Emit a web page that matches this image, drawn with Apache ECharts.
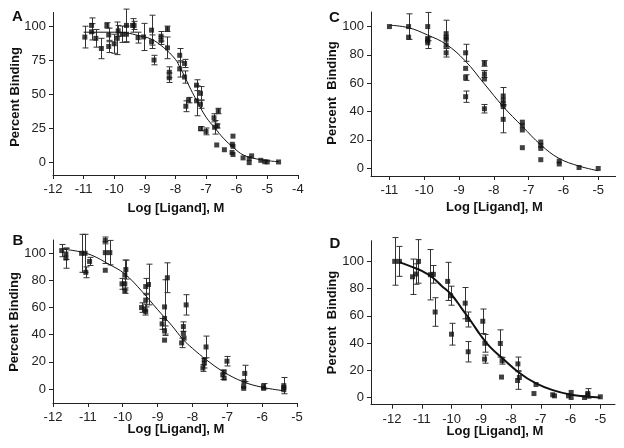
<!DOCTYPE html>
<html><head><meta charset="utf-8">
<script src="https://cdn.jsdelivr.net/npm/echarts@6/dist/echarts.min.js"></script>
<style>html,body{margin:0;padding:0;background:#fff}#c{width:624px;height:448px}</style>
</head><body><div id="c"></div>
<script>
// ---- Panel A ----
const aX = [-10.96,-10.74,-10.74,-10.6,-10.42,-10.24,-10.18,-10.18,-10.0,-9.9,-9.87,-9.74,-9.6,-9.6,-9.4,-9.35,-9.22,-9.04,-8.78,-8.78,-8.7,-8.47,-8.47,-8.26,-8.26,-8.2,-8.2,-7.86,-7.86,-7.7,-7.7,-7.66,-7.57,-7.31,-7.31,-7.18,-7.18,-7.18,-7.0,-6.74,-6.72,-6.6,-6.63,-6.65,-6.4,-6.12,-6.14,-6.12,-6.15,-6.12,-5.79,-5.59,-5.59,-5.51,-5.21,-5.08,-5.0,-4.63];
const aY = [91.9,100.5,95.8,91,83.5,100.5,93.5,85,87,91,96.5,94,100.5,94,100.5,100.5,91.5,92,97,88.5,75,92.5,89.5,98,84,66,62,78.5,68.5,72.5,62.5,41,45.5,56.5,45,50.5,42.5,24.5,22.5,32.5,25.5,37.5,26.5,12.5,9,19,13,11.5,7,5.5,3,2.5,-0.5,4.5,1.2,0.2,0,0];
const aErr = [8,5.5,6,6.5,7.5,2,5,4.5,7,12,4,6,12,6,5,3,4,10,11,5,3.5,3.5,3,2,8,4,3.5,5,6,3,4.5,4,2,4,11,5,3,1.5,2.5,3,5,2,1.5,0,0,0,0,0,0,0,0,0,0,0,0,0,0,0];
const aCurveX = [-11,-10.5,-10,-9.6,-9.2,-8.8,-8.4,-8.0,-7.85,-7.7,-7.5,-7.3,-7.0,-6.7,-6.43,-6.1,-5.78,-5.34,-4.9,-4.62];
const aCurveY = [95.5,95.5,95.5,95,93,90.5,84.5,75.5,69.5,63,53.5,45,33,24.7,17.4,10.5,5.1,2.2,0.7,0.2];
const aTicksX = [-12,-11,-10,-9,-8,-7,-6,-5,-4];
const aTicksY = [0,25,50,75,100];

// ---- Panel B ----
const bX = [-11.75,-11.63,-11.63,-11.18,-11.08,-11.06,-10.95,-10.5,-10.5,-10.5,-10.37,-10.02,-9.94,-9.94,-9.94,-9.91,-9.46,-9.36,-9.34,-9.34,-9.34,-9.26,-8.87,-8.8,-8.8,-8.8,-8.8,-8.72,-8.31,-8.26,-8.26,-8.24,-8.18,-7.7,-7.66,-7.66,-7.61,-7.13,-7.09,-7.09,-7.01,-6.53,-6.53,-6.5,-6.52,-5.96,-5.96,-5.38,-5.38,-5.38];
const bY = [102,99.5,96.5,100,100,86,94,109.5,100.5,87.5,100.5,77.5,84,77.5,72.5,88,60,58.5,75.5,65.5,57,77,48,60.5,52,43,36,82,34,46,41,37.5,62,15.5,19,21.5,31,10.5,8,12.5,20.5,2,0.5,11.5,5.5,2,0.5,2.5,-0.5,1];
const bErr = [4.5,4,7.5,14,14,4,3,2.5,8,0,9,4,11,0,2,7,3.5,4,6,5,0,15,4,20,0,3.5,0,11,3.5,3.5,0,0,7.5,2.5,3.5,0,8,3.5,0,0,3.5,0,0,6,0,2,0,6,0,0];
const bCurveX = [-11.7,-11.3,-10.9,-10.4,-9.95,-9.45,-9.0,-8.6,-8.27,-8.0,-7.6,-7.1,-6.55,-6.0,-5.4];
const bCurveY = [103,101.5,98.7,92,85,72,58.5,47,36.5,30,21.5,12.5,5.4,1.3,-1.2];
const bTicksX = [-12,-11,-10,-9,-8,-7,-6,-5];
const bTicksY = [0,20,40,60,80,100];

// ---- Panel C ----
const cX = [-11,-10.45,-10.45,-9.9,-9.9,-9.9,-9.9,-9.37,-9.37,-9.37,-9.37,-9.37,-8.81,-8.81,-8.81,-8.81,-8.27,-8.27,-8.27,-8.27,-7.73,-7.73,-7.73,-7.73,-7.73,-7.18,-7.18,-7.18,-7.18,-6.65,-6.65,-6.65,-6.65,-6.12,-6.12,-5.55,-5.0];
const cY = [100,100,92.5,100,91.5,90,88.5,95,92.5,91,87,81.5,81.5,70.5,64,50.5,74,66.5,63,42,51,48,45.5,43.5,34.5,32.5,30,27,14.5,18.5,16,14,6,5,3,0.5,-0.2];
const cErr = [0,9,0,10,0,0,4,9.5,0,0,0,3,6,0,2,4,2,2.5,0,3,6,0,0,0,9.5,0,0,0,0,0,0,0,0,0,0,0,0];
const cCurveX = [-11,-10.45,-9.9,-9.37,-8.83,-8.27,-7.73,-7.18,-6.65,-6.13,-5.55,-5.0];
const cCurveY = [101,99.2,94,87.5,76,59.5,43.5,29.5,16.5,7,1.5,-1.8];
const cTicksX = [-11,-10,-9,-8,-7,-6,-5];
const cTicksY = [0,20,40,60,80,100];

// ---- Panel D ----
const dX = [-11.91,-11.75,-11.31,-11.2,-11.11,-10.71,-10.61,-10.55,-10.13,-10.03,-10.0,-9.54,-9.46,-9.44,-8.95,-8.88,-8.89,-8.36,-8.3,-8.32,-7.77,-7.78,-7.72,-7.16,-7.23,-6.6,-6.54,-6.07,-5.98,-5.98,-5.53,-5.42,-5.42,-5.0];
const dY = [100,100,88.7,90.7,100,90.2,90.5,62.8,85.3,74.8,46.5,69.3,57.3,33.6,56,39.8,28.2,39.7,27,15,24.7,12.5,14.7,9.5,2.9,2,1.2,1.2,3.7,0,0,3,2,0.5];
const dErr = [17.5,11,13,7.5,16,18.5,6.5,10.5,14,7,8,11.5,5.5,7.5,9,6.5,3,10,2.5,0,5,6.5,0,0,0,0,0,0,0,0,0,3.5,0,0];
const dCurveX = [-11.75,-11.33,-11.0,-10.66,-10.33,-10.0,-9.66,-9.33,-9.0,-8.7,-8.3,-7.74,-7.16,-6.6,-5.98,-5.5,-5.0];
const dCurveY = [99.5,96,93,88.5,82,75.5,65.5,55.5,45,37,29,18.4,10.3,5.4,2,0.7,0];
const dTicksX = [-12,-11,-10,-9,-8,-7,-6,-5];
const dTicksY = [0,20,40,60,80,100];

// ---- Texts ----
const panelLetters = ['A','B','C','D'];
const xTitle = 'Log [Ligand], M';
const yTitles = ['Percent Binding','Percent Binding','Percent  Binding','Percent  Binding'];

const FONT = '"Liberation Sans", Arial, sans-serif';
const INK = '#111';

const panels = [
  {x:aX,y:aY,e:aErr,cx:aCurveX,cy:aCurveY,tx:aTicksX,ty:aTicksY,
   grid:{left:53,top:12.5,width:245,height:162.5}, xr:[-12,-3.995], yr:[-9.6,110], lw:1,
   letter:[17.5,16.5], ytl:[15,97], xtl:[176,208]},
  {x:bX,y:bY,e:bErr,cx:bCurveX,cy:bCurveY,tx:bTicksX,ty:bTicksY,
   grid:{left:53,top:240,width:244.2,height:163}, xr:[-12,-4.995], yr:[-10.3,109.8], lw:1,
   letter:[18,241], ytl:[14,322], xtl:[176,429]},
  {x:cX,y:cY,e:cErr,cx:cCurveX,cy:cCurveY,tx:cTicksX,ty:cTicksY,
   grid:{left:371,top:12,width:244.6,height:164}, xr:[-11.53,-4.5], yr:[-5.5,110.3], lw:1,
   letter:[334.5,18], ytl:[332.5,93], xtl:[494.5,207.5]},
  {x:dX,y:dY,e:dErr,cx:dCurveX,cy:dCurveY,tx:dTicksX,ty:dTicksY,
   grid:{left:371,top:240.7,width:244,height:164}, xr:[-12.706,-4.507], yr:[-5.3,115.2], lw:2,
   letter:[335,244], ytl:[332.5,322.5], xtl:[495,431]}
];

const grids=[], xAxes=[], yAxes=[], series=[], graphics=[];
panels.forEach((p,i)=>{
  grids.push(Object.assign({containLabel:false}, p.grid));
  const axisCommon = {
    type:'value', gridIndex:i, splitLine:{show:false},
    axisLine:{show:true, onZero:false, lineStyle:{color:'#222', width:1}},
  };
  xAxes.push(Object.assign({}, axisCommon, {
    min:p.xr[0], max:p.xr[1],
    axisTick:{show:true, length:4, customValues:p.tx, lineStyle:{color:'#222'}},
    axisLabel:{customValues:p.tx, margin:8, color:'#222', fontSize:13, fontFamily:FONT, showMaxLabel:true, showMinLabel:true}
  }));
  yAxes.push(Object.assign({}, axisCommon, {
    min:p.yr[0], max:p.yr[1],
    axisTick:{show:true, length:4, customValues:p.ty, lineStyle:{color:'#222'}},
    axisLabel:{customValues:p.ty, margin:7, color:'#222', fontSize:13, fontFamily:FONT}
  }));
  const pts = p.x.map((v,j)=>[v,p.y[j],p.e[j]]);
  series.push({
    type:'custom', xAxisIndex:i, yAxisIndex:i, silent:true, z:1, clip:false,
    data: pts.filter(d=>d[2]>0),
    encode:{x:0,y:1},
    renderItem:(params, api)=>{
      const xv=api.value(0), yv=api.value(1), ev=api.value(2);
      const t=api.coord([xv,yv+ev]), b=api.coord([xv,yv-ev]);
      const cx=Math.round(t[0])+0.5, cw=3;
      const st={stroke:'#333', lineWidth:1};
      return {type:'group', children:[
        {type:'line', shape:{x1:cx,y1:t[1],x2:cx,y2:b[1]}, style:st},
        {type:'line', shape:{x1:cx-cw,y1:t[1],x2:cx+cw,y2:t[1]}, style:st},
        {type:'line', shape:{x1:cx-cw,y1:b[1],x2:cx+cw,y2:b[1]}, style:st}
      ]};
    }
  });
  series.push({
    type:'line', xAxisIndex:i, yAxisIndex:i, z:2, silent:true,
    data:p.cx.map((v,j)=>[v,p.cy[j]]), smooth:0.4, symbol:'none',
    lineStyle:{color:INK, width:p.lw}
  });
  series.push({
    type:'scatter', xAxisIndex:i, yAxisIndex:i, z:3, silent:true,
    data:pts.map(d=>[d[0],d[1]]), symbol:'rect', symbolSize:5,
    itemStyle:{color:INK}
  });
  graphics.push({type:'text', x:p.letter[0], y:p.letter[1],
    style:{text:panelLetters[i], font:'bold 15px '+FONT, fill:INK, textAlign:'center', textVerticalAlign:'middle'}});
  graphics.push({type:'text', x:p.ytl[0], y:p.ytl[1], rotation:Math.PI/2,
    style:{text:yTitles[i], font:'bold 13px '+FONT, fill:INK, textAlign:'center', textVerticalAlign:'middle'}});
  graphics.push({type:'text', x:p.xtl[0], y:p.xtl[1],
    style:{text:xTitle, font:'bold 13px '+FONT, fill:INK, textAlign:'center', textVerticalAlign:'middle'}});
});

const chart = echarts.init(document.getElementById('c'), null, {renderer:'canvas'});
chart.setOption({
  animation:false, backgroundColor:'#fff',
  grid:grids, xAxis:xAxes, yAxis:yAxes, series:series, graphic:graphics
});
</script>
</body></html>
